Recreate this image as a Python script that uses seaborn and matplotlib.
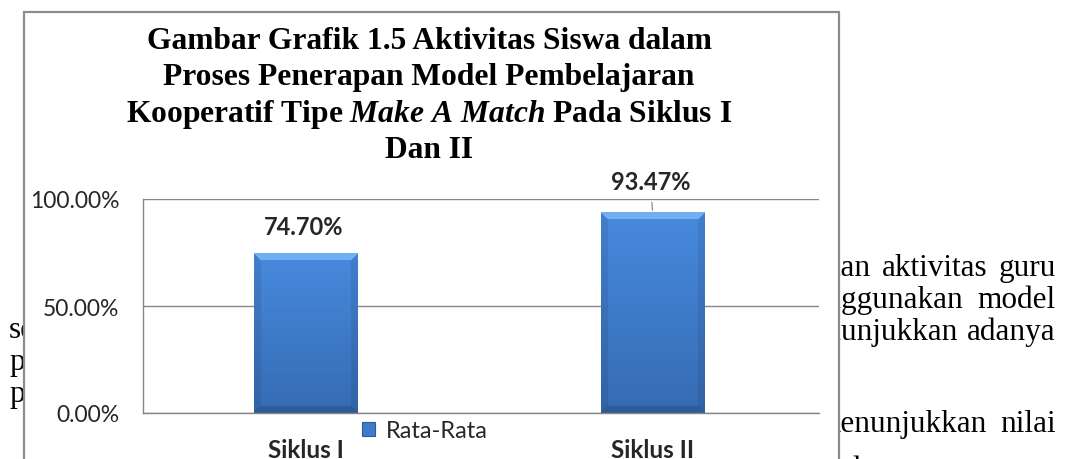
import numpy as np
import pandas as pd
import matplotlib
matplotlib.use("Agg")
import matplotlib.pyplot as plt
import seaborn as sns
from matplotlib.patches import Rectangle, Patch
from matplotlib.ticker import FixedLocator, PercentFormatter

# data
siklus = ["Siklus I", "Siklus II"]
rata_rata = [0.7470, 0.9347]
value_labels = ["74.70%", "93.47%"]
legend_label = "Rata-Rata"
y_ticks = [0.0, 0.5, 1.0]

title_lines = ["Gambar Grafik 1.5 Aktivitas Siswa dalam",
               "Proses Penerapan Model Pembelajaran",
               "Kooperatif Tipe $\\mathit{Make\\ A\\ Match}$ Pada Siklus I",
               "Dan II"]

# page text around the chart (partly hidden behind the chart frame)
# (words, hidden prefix of the first word)
page_right = [(["peningkatan", "aktivitas", "guru"], "peningkat"),
              (["menggunakan", "model"], "men"),
              (["menunjukkan", "adanya"], "men"),
              (["menunjukkan", "nilai"], "m")]
page_left = ["sebelum", "pembelajaran", "peningkatan"]

W, H = 1071, 460

sns.set_style("white")
plt.rcParams["font.family"] = ["Lato", "DejaVu Sans"]
plt.rcParams["mathtext.fontset"] = "custom"
plt.rcParams["mathtext.rm"] = "Liberation Serif:bold"
plt.rcParams["mathtext.it"] = "Liberation Serif:italic:bold"
plt.rcParams["mathtext.bf"] = "Liberation Serif:bold"

fig = plt.figure(figsize=(W / 100, H / 100), dpi=100)
fig.patch.set_facecolor("white")
renderer = fig.canvas.get_renderer()

serif = "Liberation Serif"
body_kw = dict(fontsize=22.5, family=serif, color="black", zorder=-2, va="baseline")


def text_width(s):
    t = fig.text(0, 0, s, **body_kw)
    w = t.get_window_extent(renderer).width
    t.remove()
    return w


# justified lines on the right, clipped by the chart frame
vis_start, right_edge = 841, 1056
for (words, prefix), yb in zip(page_right, [276, 308, 340, 432]):
    widths = [text_width(w) for w in words]
    x_start = vis_start - text_width(prefix)
    gap = (right_edge - x_start - sum(widths)) / (len(words) - 1)
    x = x_start
    for w, wd in zip(words, widths):
        fig.text(x / W, 1 - yb / H, w, ha="left", **body_kw)
        x += wd + gap
fig.text(845 / W, 1 - 478 / H, "data tentang", ha="left", **body_kw)
for line, yb in zip(page_left, [338, 370, 402]):
    fig.text(9 / W, 1 - yb / H, line, ha="left", **body_kw)

# chart frame
fig.add_artist(Rectangle((24 / W, -0.1), (839 - 24) / W, 1 - 13 / H + 0.1,
                         transform=fig.transFigure, facecolor="white",
                         edgecolor="#8c8c8c", lw=1.6, zorder=-1))

# title
for line, yb in zip(title_lines, [49, 85, 122, 158]):
    fig.text(429 / W, 1 - yb / H, line, ha="center", va="baseline",
             fontsize=22.7, family=serif, fontweight="bold", color="black")

ax = fig.add_axes([143 / W, 46 / H, 676 / W, 214 / H])
ax.patch.set_alpha(0)

df = pd.DataFrame({"siklus": siklus, "nilai": rata_rata})
sns.barplot(data=df, x="siklus", y="nilai", color="#3f7bcb", saturation=1,
            width=0.30, ax=ax, zorder=2, linewidth=0)

ax.set_xlim(-0.47, 1.48)
ax.set_ylim(0, 1.0)
ax.yaxis.set_major_locator(FixedLocator(y_ticks))
ax.yaxis.set_major_formatter(PercentFormatter(1.0, decimals=2))
ax.grid(axis="y", color="#868686", lw=1.0)
ax.grid(axis="x", visible=False)
ax.set_axisbelow(True)
for s in ["top", "right"]:
    ax.spines[s].set_visible(False)
for s in ["left", "bottom"]:
    ax.spines[s].set_color("#868686")
    ax.spines[s].set_linewidth(1.0)
ax.tick_params(axis="y", length=0, pad=17, labelsize=16.5)
ax.tick_params(axis="x", length=0, pad=18, labelsize=17.5)
for lab in ax.get_xticklabels():
    lab.set_fontweight("bold")
ax.set_xlabel("")
ax.set_ylabel("")


# excel-like bevelled gradient on the bars
def bevel_image(wpx, hpx, b=7):
    yy, xx = np.mgrid[0:hpx, 0:wpx] + 0.5
    d_top, d_bot = yy, hpx - yy
    d_left, d_right = xx, wpx - xx
    t = (yy / hpx)[..., None]
    top_c = np.array([0.28, 0.54, 0.87])
    bot_c = np.array([0.21, 0.42, 0.70])
    img = top_c * (1 - t) + bot_c * t
    dmin = np.minimum.reduce([d_top, d_bot, d_left, d_right])
    side = (np.minimum(d_left, d_right) == dmin) & (dmin < b)
    img[side] = img[side] * 0.92
    top = (d_top == dmin) & (dmin < b)
    img[top] = np.array([0.45, 0.69, 0.95])
    bot = (d_bot == dmin) & (dmin < b)
    img[bot] = img[bot] * 0.86
    return np.clip(img, 0, 1)


for p in list(ax.patches):
    x0, y0, w, h = p.get_x(), p.get_y(), p.get_width(), p.get_height()
    (px0, py0), (px1, py1) = ax.transData.transform([(x0, y0), (x0 + w, y0 + h)])
    img = bevel_image(int(round(px1 - px0)), int(round(py1 - py0)))
    ax.imshow(img, extent=(x0, x0 + w, y0, y0 + h), aspect="auto",
              origin="upper", interpolation="bilinear", zorder=2.5)
    p.set_alpha(0)

ax.set_xlim(-0.47, 1.48)
ax.set_ylim(0, 1.0)

# value labels
offsets = [(-2, 27), (-2, 31)]
leader = [False, True]
for i, (val, lab) in enumerate(zip(rata_rata, value_labels)):
    kw = {}
    if leader[i]:
        kw["arrowprops"] = dict(arrowstyle="-", color="#8c8c8c", lw=0.9,
                                shrinkA=4, shrinkB=2)
    ax.annotate(lab, xy=(i, val), xytext=offsets[i], textcoords="offset pixels",
                ha="center", va="center", fontsize=17, fontweight="bold",
                color="#262626", annotation_clip=False, **kw)

ax.legend(handles=[Patch(facecolor="#3f7bcb", edgecolor="#2c5a98", lw=0.8)],
          labels=[legend_label], loc="center left",
          bbox_to_anchor=(362 / W, 1 - 432 / H), bbox_transform=fig.transFigure,
          frameon=False, handlelength=0.55, handleheight=0.55, handletextpad=0.45,
          borderpad=0, borderaxespad=0, fontsize=17)

fig.savefig("out.png", dpi=100)
